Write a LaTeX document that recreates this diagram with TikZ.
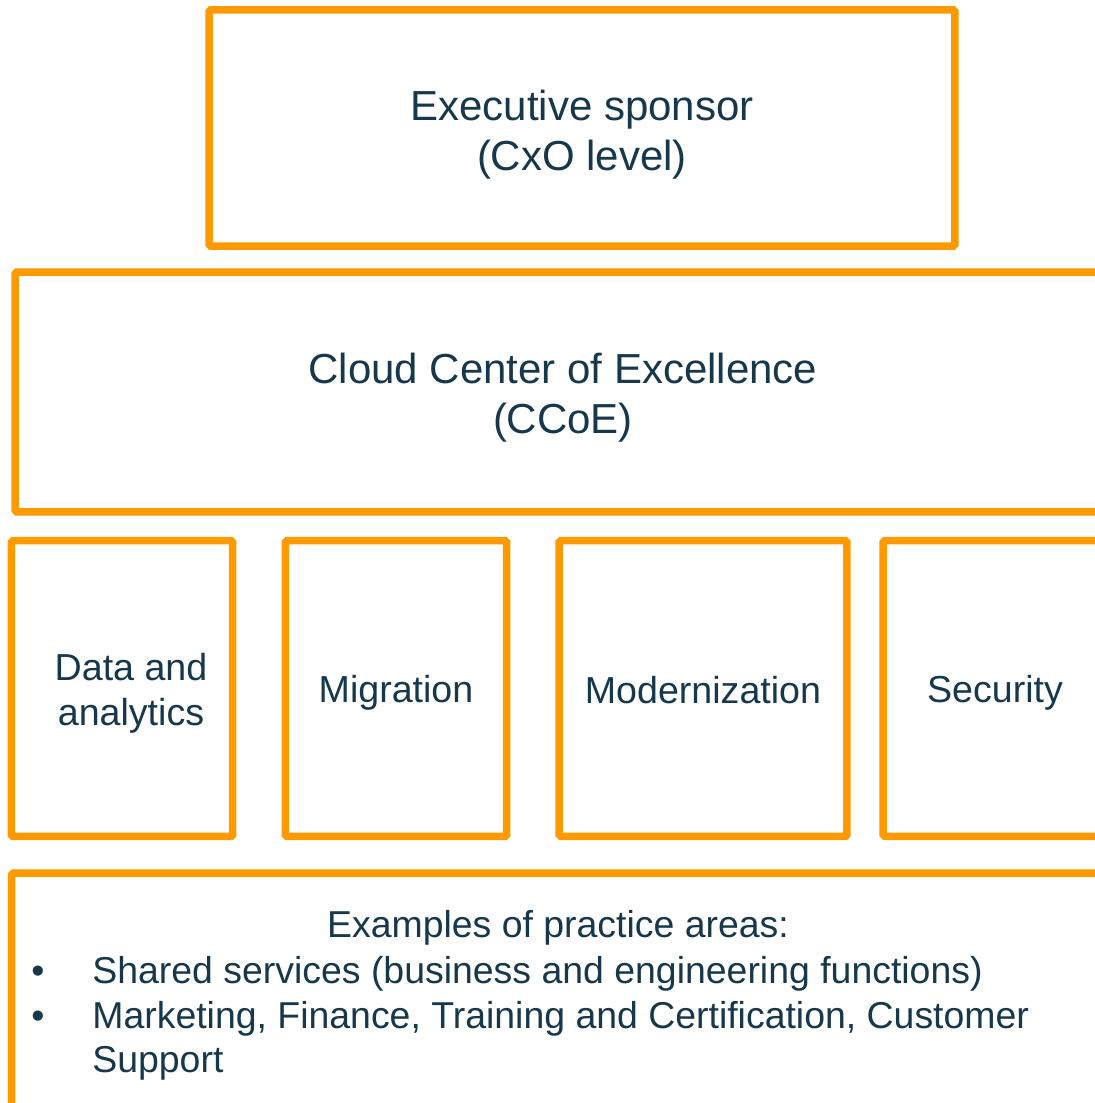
\documentclass[tikz,border=0pt]{standalone}
\usepackage{fontspec}
\setmainfont{Liberation Sans}
\usepackage{tikz}
\definecolor{awsorange}{HTML}{FF9900}
\definecolor{navytext}{HTML}{17374B}
\tikzset{
	areabox/.style={draw=awsorange, line width=0.15cm, rounded corners=1pt, rectangle, inner sep=0pt},
	boxtext/.style={text=navytext, align=center, inner sep=0pt},
	bigtext/.style={font=\fontsize{23.9}{28.4}\selectfont},
	smalltext/.style={font=\fontsize{21.4}{25.6}\selectfont},
	plaintext/.style={text=navytext, inner sep=0pt, font=\fontsize{21.3}{25.6}\selectfont}
}
\begin{document}
\begin{tikzpicture}[x=0.02cm, y=-0.02cm]
		\useasboundingbox (0, 0) rectangle (1095, 1103);
		\clip (0, 0) rectangle (1095, 1103);

		\draw (582, 128) node[areabox, minimum width=14.92cm, minimum height=4.73cm] (sponsor) {};
		\draw (582, 135) node[boxtext, bigtext] (sponsorlabel) {Executive sponsor\\(CxO level)};
		\draw (563, 392) node[areabox, minimum width=21.92cm, minimum height=4.8cm] (ccoe) {};
		\draw (563, 398) node[boxtext, bigtext] (ccoelabel) {Cloud Center of Excellence\\(CCoE)};

		\draw (122, 688.5) node[areabox, minimum width=4.43cm, minimum height=5.92cm] (data) {};
		\draw (131, 693.5) node[boxtext, smalltext] (datalabel) {Data and\\analytics};
		\draw (396, 688.5) node[areabox, minimum width=4.43cm, minimum height=5.92cm] (migration) {};
		\draw (396, 692.5) node[boxtext, smalltext] (migrationlabel) {Migration};
		\draw (703, 688.5) node[areabox, minimum width=5.76cm, minimum height=5.92cm] (modern) {};
		\draw (703, 690.5) node[boxtext, smalltext] (modernlabel) {Modernization};
		\draw (995, 688.5) node[areabox, minimum width=4.48cm, minimum height=5.92cm] (security) {};
		\draw (995, 692.5) node[boxtext, smalltext] (securitylabel) {Security};

		\draw (558, 1011) node[areabox, minimum width=21.86cm, minimum height=5.52cm] (practice) {};
		\draw (558, 937) node[plaintext, anchor=base] (examples) {Examples of practice areas:};
		\draw (38, 983) node[plaintext, anchor=base] (bullet1) {\textbullet};
		\draw (92, 983) node[plaintext, anchor=base west] (item1) {Shared services (business and engineering functions)};
		\draw (38, 1028) node[plaintext, anchor=base] (bullet2) {\textbullet};
		\draw (92, 1028) node[plaintext, anchor=base west] (item2) {Marketing, Finance, Training and Certification, Customer};
		\draw (92, 1072) node[plaintext, anchor=base west] (item2b) {Support};
	\end{tikzpicture}
\end{document}
